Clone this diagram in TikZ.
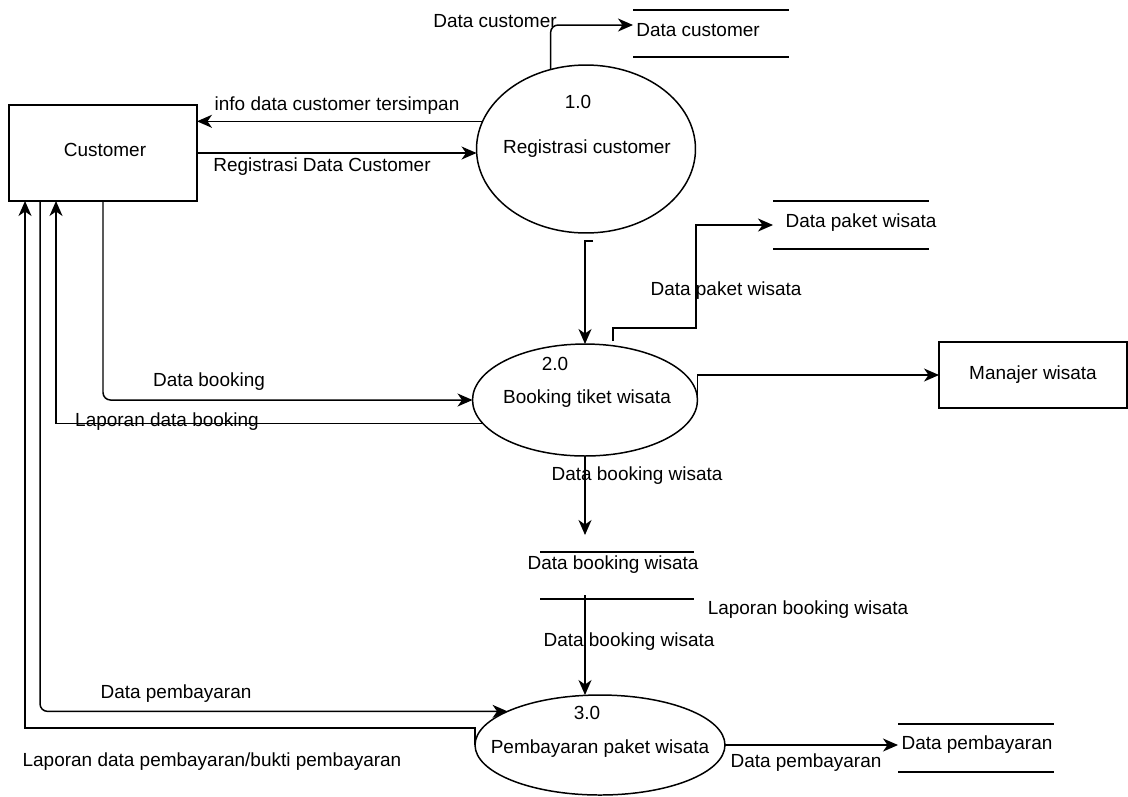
\documentclass[tikz,border=0pt]{standalone}
\usepackage{fontspec}
\setmainfont{Liberation Sans}
\usetikzlibrary{shapes.geometric,arrows.meta}

\tikzset{
  dfd/.style={x=0.02cm, y=-0.02cm, line width=0.85pt,
              font=\fontsize{10.8}{13}\selectfont},
  flow/.style={-{Stealth[length=3mm, width=2.6mm, inset=0.9mm]}},
  entity/.style={draw, minimum width=3.76cm, inner sep=0pt, outer sep=0pt},
  process/.style={draw, ellipse, inner sep=0pt, outer sep=0pt},
  store/.style={inner sep=0pt, outer sep=0pt},
  lbl/.style={inner sep=0pt, text height=1.6ex, text depth=0.3ex},
}

\begin{document}
\begin{tikzpicture}[dfd]
  \useasboundingbox (0,0) rectangle (1128,796);

  % external entities
  \node[entity, minimum height=1.92cm] (cust) at (103,153) {};
  \node[lbl] (custName) at (105,150) {Customer};
  \node[entity, minimum height=1.32cm] (mgr) at (1033,375) {Manajer wisata};

  % processes: the ellipse itself is empty, number and name sit on top of it
  \node[process, minimum width=4.38cm, minimum height=3.36cm] (reg) at (586,149) {};
  \node[process, minimum width=4.5cm, minimum height=2.24cm] (book) at (585,400) {};
  \node[process, minimum width=5cm, minimum height=2cm] (bayar) at (600,745) {};
  \node[lbl] (regNo) at (578,102) {1.0};
  \node[lbl] (regName) at (587,147) {Registrasi customer};
  \node[lbl] (bookNo) at (555,364) {2.0};
  \node[lbl] (bookName) at (587,397) {Booking tiket wisata};
  \node[lbl] (bayarNo) at (587,713) {3.0};
  \node[lbl] (bayarName) at (600,747) {Pembayaran paket wisata};

  % data stores (open-ended: only the top and bottom rules)
  \node[store, minimum width=3.12cm, minimum height=0.94cm] (sCust) at (711,33.5) {};
  \node[store, minimum width=3.12cm, minimum height=0.96cm] (sPaket) at (851,225) {};
  \node[store, minimum width=3.08cm, minimum height=0.94cm] (sBook) at (617,575.5) {};
  \node[store, minimum width=3.12cm, minimum height=0.96cm] (sBayar) at (976,748) {};
  \foreach \s in {sCust,sPaket,sBook,sBayar}
    \draw (\s.north west) -- (\s.north east) (\s.south west) -- (\s.south east);
  \node[lbl] (sCustTxt) at (698,30) {Data customer};
  \node[lbl] (sPaketTxt) at (861,221) {Data paket wisata};
  \node[lbl] (sBookTxt) at (613,563) {Data booking wisata};
  \node[lbl] (sBayarTxt) at (977,743) {Data pembayaran};

  % flows around 1.0
  \draw[flow, rounded corners=0.15cm] (reg.114) |- ([yshift=0.17cm]sCust.west);
  \draw[flow] (reg.165) -- (reg.165 -| cust.east);
  \draw[flow] (cust.east) -- (cust.east -| reg.west);
  \draw[flow] ([xshift=0.14cm, yshift=-0.16cm]reg.south) -| (book.north);
  \node[lbl] (fDataCust) at (495,21) {Data customer};
  \node[lbl] (fInfo) at (337,104) {info data customer tersimpan};
  \node[lbl] (fReg) at (322,165) {Registrasi Data Customer};

  % flows around 2.0
  \coordinate (pkBend) at (696,328);
  \draw[flow] ([xshift=0.56cm, yshift=0.06cm]book.north) |- (pkBend) |- (sPaket.west);
  \draw[flow] (book.east) |- (mgr.west);
  \draw[flow, rounded corners=0.15cm] (cust.south) |- (book.west);
  \draw[flow] (book.193) -| ([xshift=-0.94cm]cust.south);
  \draw[flow, shorten >=0.34cm] (book.south) -- (book.south |- sBook.north);
  \node[lbl] (fPaket) at (726,289) {Data paket wisata};
  \node[lbl] (fBook) at (209,380) {Data booking};
  \node[lbl] (fLapBook) at (167,420) {Laporan data booking};
  \node[lbl] (fBookW) at (637,474) {Data booking wisata};

  % flows around 3.0
  \draw[flow, shorten <=-0.08cm] (book.south |- sBook.south) -- (book.south |- bayar.north);
  \draw[flow, rounded corners=0.15cm] ([xshift=-1.26cm]cust.south) |- (bayar.160);
  \draw[flow] (bayar.west) -- ++(0,0.34cm) -| ([xshift=-1.56cm]cust.south);
  \draw[flow] (bayar.east) -- (bayar.east -| sBayar.west);
  \node[lbl] (fLapBookW) at (808,608) {Laporan booking wisata};
  \node[lbl] (fBookW2) at (629,640) {Data booking wisata};
  \node[lbl] (fBayar) at (176,692) {Data pembayaran};
  \node[lbl] (fBayar2) at (806,761) {Data pembayaran};
  \node[lbl] (fLapBayar) at (212,760) {Laporan data pembayaran/bukti pembayaran};
\end{tikzpicture}
\end{document}
